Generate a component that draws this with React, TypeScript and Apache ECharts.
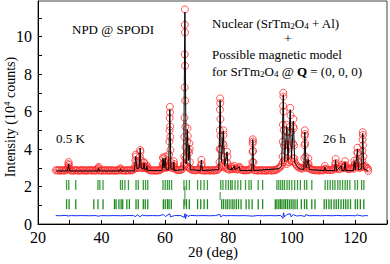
import React, { useEffect, useRef } from "react";
import * as echarts from "echarts";

// Observed background on a regular 2θ grid (start 25.6°, step 0.4°)
const obsGridStart = 25.6;
const obsGridStep = 0.4;
const obsGridValues = [
  2.86, 2.88, 2.85, 2.87, 2.84, 2.88, 2.86, 2.85, 2.88, 2.9,
  3.05, 2.9, 2.86, 2.84, 2.87, 2.85, 2.88, 2.86, 2.84, 2.87,
  2.85, 2.88, 2.86, 2.84, 2.87, 2.85, 2.86, 2.88, 2.85, 2.87,
  2.86, 2.84, 2.88, 2.95, 2.86, 2.85, 2.87, 2.84, 2.86, 2.88,
  2.85, 2.87, 2.84, 2.86, 2.88, 2.85, 2.86, 2.84, 2.87, 2.85,
  2.88, 2.92, 2.86, 2.85, 2.87, 2.84, 2.86, 2.88, 2.85, 2.87,
  2.86, 2.9, 2.95, 3.0, 2.98, 3.0, 3.05, 3.0, 2.98, 3.05,
  3.0, 2.98, 2.95, 2.9, 2.88, 2.86, 2.85, 2.87, 2.86, 2.84,
  2.87, 2.86, 2.88, 2.92, 3.0, 2.98, 3.05, 3.0, 3.02, 3.05,
  3.1, 3.0, 2.98, 3.05, 2.95, 2.9, 2.88, 2.87, 2.88, 2.9,
  2.95, 3.1, 3.15, 3.1, 3.05, 3.0, 2.95, 2.9, 2.88, 2.87,
  2.86, 2.88, 2.9, 2.95, 2.88, 2.86, 2.87, 2.85, 2.86, 2.88,
  2.85, 2.87, 2.86, 2.88, 2.85, 2.86, 2.88, 2.87, 2.92, 3.0,
  3.1, 3.05, 3.1, 3.0, 3.05, 2.95, 2.92, 2.9, 2.95, 2.92,
  2.95, 3.0, 2.92, 2.9, 2.95, 3.0, 2.9, 2.88, 2.86, 2.87,
  2.86, 2.88, 2.87, 2.92, 3.0, 2.95, 2.88, 2.86, 2.87, 2.85,
  2.86, 2.88, 2.85, 2.87, 2.86, 2.84, 2.87, 2.85, 2.88, 2.86,
  2.85, 2.87, 2.86, 2.88, 2.9, 2.95, 3.0, 3.05, 3.15, 3.3,
  3.4, 3.3, 3.2, 3.5, 3.3, 3.4, 3.35, 3.5, 3.3, 3.2,
  3.1, 3.05, 3.0, 3.0, 2.95, 3.0, 3.1, 3.0, 3.1, 3.0,
  2.95, 2.92, 2.9, 2.88, 2.87, 2.86, 2.88, 2.85, 2.87, 2.86,
  2.88, 2.86, 2.95, 2.92, 2.88, 2.9, 2.87, 2.89, 2.88, 2.95,
  3.0, 2.95, 3.0, 2.92, 2.95, 3.05, 2.98, 3.0, 3.05, 2.98,
  2.95, 2.92, 2.95, 2.98, 3.0, 2.95, 3.05, 3.1, 3.05, 3.0,
  3.0, 3.05, 3.1, 3.05, 3.1, 3.0, 2.95,
];

// Observed points on the Bragg peaks [2θ, intensity (10^4 counts)]
const obsPeakPoints = [
  [29.45, 3.0], [29.55, 3.2], [29.65, 3.3], [29.75, 3.15], [29.85, 2.95],
  [39.05, 2.98], [39.15, 3.05], [46.0, 2.97],
  [50.6, 3.1], [50.7, 3.4], [50.8, 3.7], [50.9, 3.6], [51.0, 3.3],
  [52.0, 3.2], [52.1, 3.6], [52.2, 3.95], [52.3, 3.85], [52.4, 3.4],
  [53.3, 3.1], [53.4, 3.3], [53.5, 3.25], [53.6, 3.05],
  [54.2, 3.0], [54.3, 3.12], [54.4, 3.05],
  [59.3, 3.2], [59.4, 3.55], [59.5, 3.5], [59.6, 3.2],
  [60.0, 3.3], [60.1, 3.6], [60.2, 3.45], [60.3, 3.05],
  [61.3, 3.2], [61.35, 3.7], [61.4, 4.4], [61.45, 5.0], [61.5, 5.65], [61.55, 6.25],
  [61.6, 5.95], [61.65, 5.2], [61.7, 4.65], [61.75, 3.95], [61.85, 3.3],
  [62.7, 3.1], [62.8, 3.35], [62.9, 3.2],
  [66.05, 3.2], [66.1, 3.6], [66.15, 4.65], [66.18, 5.67], [66.22, 7.29], [66.25, 9.05],
  [66.28, 10.63], [66.3, 11.45], [66.33, 10.22], [66.36, 8.44], [66.4, 6.58], [66.44, 5.19],
  [66.48, 4.1], [66.55, 3.5],
  [66.9, 3.6], [67.0, 4.4], [67.1, 5.1], [67.2, 4.7], [67.3, 3.9],
  [67.6, 3.8], [67.7, 4.3], [67.8, 4.0], [67.9, 3.3],
  [71.4, 3.15], [71.5, 3.42], [71.6, 3.2],
  [77.2, 3.3], [77.25, 4.0], [77.3, 5.0], [77.35, 6.1], [77.4, 6.7], [77.45, 6.45],
  [77.5, 5.6], [77.55, 4.7], [77.6, 4.0],
  [78.25, 3.6], [78.3, 4.3], [78.4, 5.0], [78.45, 4.75], [78.5, 4.2], [78.6, 3.6],
  [79.5, 3.3], [79.6, 3.85], [79.7, 3.6], [79.8, 3.2],
  [81.0, 3.05], [81.9, 3.1], [83.5, 3.05],
  [87.55, 3.3], [87.6, 3.85], [87.65, 4.3], [87.7, 4.52], [87.75, 4.4], [87.8, 3.9], [87.9, 3.3],
  [97.1, 3.6], [97.15, 4.4], [97.2, 5.3], [97.25, 6.3], [97.3, 7.0], [97.35, 6.8],
  [97.4, 6.0], [97.45, 5.0], [97.5, 4.2],
  [98.25, 3.9], [98.3, 4.6], [98.4, 5.3], [98.5, 4.9], [98.6, 4.2],
  [99.3, 4.2], [99.4, 5.2], [99.5, 6.2], [99.6, 5.8], [99.7, 4.9],
  [100.35, 4.3], [100.45, 5.2], [100.5, 5.6], [100.6, 5.1], [100.7, 4.2], [100.8, 3.5],
  [103.95, 3.5], [104.0, 4.2], [104.05, 4.7], [104.1, 5.0], [104.15, 4.8], [104.2, 4.3], [104.3, 3.6],
  [105.1, 3.2], [105.2, 3.5], [105.3, 3.2],
  [110.4, 3.1],
  [113.7, 3.2], [113.8, 3.47], [113.9, 3.25],
  [115.6, 3.15],
  [116.7, 3.1], [116.8, 3.35], [116.9, 3.15],
  [119.6, 3.1], [119.7, 3.38], [119.8, 3.2],
  [120.55, 3.4], [120.6, 3.8], [120.7, 4.07], [120.8, 3.8], [120.9, 3.3],
  [122.2, 3.4], [122.25, 3.9], [122.3, 4.5], [122.35, 4.9], [122.4, 4.75], [122.45, 4.2], [122.55, 3.6],
  [124.1, 2.83],
];

// Calculated profile
const calcPoints = [
  [25.6, 2.83], [29.3, 2.83], [29.55, 3.1], [29.65, 3.2], [29.75, 3.05], [30.0, 2.83],
  [38.9, 2.83], [39.1, 3.0], [39.3, 2.83],
  [45.8, 2.83], [46.0, 2.95], [46.2, 2.83],
  [50.4, 2.83], [50.8, 3.6], [51.2, 2.95], [51.9, 3.0], [52.2, 4.05], [52.5, 3.0],
  [53.2, 2.95], [53.45, 3.25], [53.7, 2.9], [54.2, 2.9], [54.3, 3.1], [54.5, 2.85],
  [59.1, 2.85], [59.4, 3.5], [59.75, 3.0], [60.1, 3.55], [60.4, 2.9],
  [61.2, 2.9], [61.55, 6.1], [61.9, 2.95], [62.6, 2.9], [62.8, 3.3], [63.0, 2.85],
  [65.9, 2.9], [66.3, 11.3], [66.7, 3.2], [67.1, 5.05], [67.4, 3.4], [67.7, 4.2], [68.0, 2.9],
  [71.2, 2.85], [71.5, 3.4], [71.8, 2.85],
  [77.0, 2.9], [77.4, 6.6], [77.8, 3.3], [78.4, 4.95], [78.8, 3.1], [79.6, 3.85], [79.9, 2.95],
  [80.9, 2.9], [81.0, 3.0], [81.2, 2.9], [81.9, 3.1], [82.1, 2.9], [83.5, 3.05], [83.7, 2.85],
  [87.4, 2.85], [87.7, 4.5], [88.0, 2.85],
  [96.0, 2.95], [96.8, 3.1], [97.3, 6.9], [97.7, 3.3], [98.4, 5.2], [98.8, 3.4],
  [99.5, 6.1], [99.9, 3.5], [100.5, 5.5], [100.9, 3.3], [101.6, 3.1], [102.3, 2.95],
  [103.8, 2.9], [104.1, 4.9], [104.5, 3.0], [105.2, 3.45], [105.5, 2.9],
  [110.2, 2.85], [110.4, 3.05], [110.6, 2.85],
  [113.5, 2.85], [113.8, 3.4], [114.1, 2.85], [115.6, 3.1], [115.8, 2.85],
  [116.5, 2.85], [116.8, 3.3], [117.1, 2.85],
  [119.4, 2.85], [119.7, 3.35], [120.0, 2.9], [120.7, 4.0], [121.0, 2.9],
  [122.0, 2.95], [122.35, 4.85], [122.7, 2.95], [124.0, 2.83],
];

// Difference (obs - calc), offset
const diffPoints = [
  [25.6, 0.45], [27, 0.44], [28.5, 0.46], [29.6, 0.43], [30.5, 0.45], [32, 0.44], [34, 0.45],
  [36, 0.44], [38, 0.45], [39.1, 0.42], [40, 0.45], [42, 0.44], [44, 0.45], [46, 0.44],
  [48, 0.45], [50, 0.45], [50.8, 0.4], [51.3, 0.5], [52.2, 0.38], [52.8, 0.48], [54, 0.44],
  [56, 0.45], [58, 0.44], [59.5, 0.5], [60.2, 0.4], [61.5, 0.55], [61.8, 0.38], [63, 0.45],
  [65, 0.45], [66.1, 0.35], [66.3, 0.55], [66.5, 0.28], [66.8, 0.5], [67.3, 0.4], [68, 0.46],
  [70, 0.44], [72, 0.45], [74, 0.44], [76, 0.45], [77.3, 0.52], [77.6, 0.38], [78.4, 0.47],
  [79, 0.44], [81, 0.45], [83, 0.44], [85, 0.45], [87.7, 0.42], [89, 0.45], [91, 0.44],
  [93, 0.45], [95, 0.44], [96.5, 0.46], [97.2, 0.3], [97.4, 0.6], [97.7, 0.38], [98.4, 0.5],
  [99.5, 0.55], [99.8, 0.38], [100.5, 0.5], [101.5, 0.43], [103, 0.45], [104.1, 0.4],
  [104.4, 0.5], [105.5, 0.44], [107, 0.45], [109, 0.44], [111, 0.45], [113, 0.44],
  [114, 0.46], [116, 0.44], [118, 0.45], [120, 0.44], [120.7, 0.48], [122.4, 0.42],
  [123, 0.45], [124, 0.44],
];

// Bragg reflection positions (2θ)
const braggNuclear = [
  29.0, 29.7, 31.9, 38.9, 39.5, 40.5, 46.0, 46.6, 47.4, 48.5, 50.9, 51.6, 53.2, 53.9, 54.6,
  59.4, 60.1, 60.8, 61.4, 62.1, 66.0, 66.8, 67.7, 70.3, 71.3, 72.35, 73.4, 77.6, 78.3, 79.2,
  80.0, 80.7, 81.2, 82.1, 83.0, 83.9, 85.4, 86.5, 87.2, 89.4, 90.8, 95.3, 95.9, 96.5, 97.1,
  97.7, 98.5, 99.2, 100.0, 100.9, 101.8, 102.7, 104.0, 104.7, 106.3, 110.5, 111.3, 112.1,
  112.9, 113.6, 114.5, 115.2, 116.0, 116.8, 117.5, 118.3, 119.9, 120.7, 122.0, 122.7,
];
const braggMagnetic = [
  29.0, 29.8, 31.9, 37.6, 38.9, 40.5, 44.1, 44.6, 45.5, 46.2, 46.7, 48.0, 48.8, 50.9, 51.6,
  53.2, 53.8, 54.6, 59.5, 60.1, 60.8, 61.3, 62.0, 66.0, 66.8, 67.7, 70.3, 71.3, 72.35, 73.4,
  77.9, 78.5, 79.2, 79.8, 80.5, 81.2, 81.8, 82.5, 83.2, 84.0, 85.6, 86.5, 87.5, 89.4, 90.8,
  94.8, 95.3, 95.9, 96.4, 96.9, 97.5, 98.0, 98.6, 99.2, 99.8, 100.4, 101.0, 101.7, 103.0,
  104.0, 104.7, 106.3, 107.3, 110.2, 110.9, 111.7, 112.4, 113.3, 114.0, 114.7, 115.5,
  116.3, 117.0, 117.7, 118.5, 120.0, 120.7, 121.6, 122.7,
];
const braggAl = [66.3, 77.4];

const xTicks = { min: 20, max: 130, step: 10 };
const yTicks = { min: 0, max: 11.9, step: 1 };

const serif = "'Liberation Serif', 'Times New Roman', serif";

export default function App() {
  const ref = useRef<HTMLDivElement>(null);

  useEffect(() => {
    if (!ref.current) return;
    const chart = echarts.init(ref.current, undefined, { renderer: "svg" });

    const obsData: number[][] = obsGridValues.map((v, i) => [
      +(obsGridStart + i * obsGridStep).toFixed(2),
      v,
    ]);
    const allObs = obsData.concat(obsPeakPoints);

    const tickSeries = (data: number[], y: number, color: string, h: number) => ({
      type: "scatter",
      data: data.map((x) => [x, y]),
      symbol: "rect",
      symbolSize: [1.3, h],
      itemStyle: { color, opacity: 1 },
      silent: true,
      z: 2,
    });

    chart.setOption({
      animation: false,
      grid: {
        left: 38,
        right: 1,
        top: 1,
        bottom: 40,
        show: true,
        borderColor: "#444",
        borderWidth: 1,
      },
      xAxis: {
        type: "value",
        min: xTicks.min,
        max: xTicks.max,
        interval: xTicks.step,
        axisLine: { lineStyle: { color: "#000", width: 1 } },
        axisTick: { inside: true, length: 4, lineStyle: { color: "#000" } },
        splitLine: { show: false },
        axisLabel: {
          margin: 5,
          color: "#000",
          fontFamily: serif,
          fontSize: 16,
          formatter: (v: number) => (v % 20 === 0 ? String(v) : ""),
        },
      },
      yAxis: {
        type: "value",
        min: yTicks.min,
        max: yTicks.max,
        interval: yTicks.step,
        axisLine: { show: true, lineStyle: { color: "#000", width: 1 } },
        axisTick: { show: true, inside: true, length: 4, lineStyle: { color: "#000" } },
        splitLine: { show: false },
        axisLabel: {
          margin: 6,
          color: "#000",
          fontFamily: serif,
          fontSize: 16,
          showMaxLabel: false,
          formatter: (v: number) => (Math.round(v) % 2 === 0 ? String(v) : ""),
        },
      },
      graphic: [
        {
          type: "text",
          x: 10,
          y: 117,
          rotation: Math.PI / 2,
          style: {
            text: "Intensity (10{sup|4} counts)",
            fontFamily: serif,
            fontSize: 14,
            fill: "#000",
            align: "center",
            verticalAlign: "middle",
            rich: {
              sup: { fontFamily: serif, fontSize: 9, verticalAlign: "top", padding: [0, 0, 6, 0] },
            },
          },
        },
        {
          type: "text",
          x: 213,
          y: 252,
          style: {
            text: "2θ (deg)",
            fontFamily: serif,
            fontSize: 15,
            fill: "#000",
            align: "center",
            verticalAlign: "middle",
          },
        },
        {
          type: "text",
          x: 72,
          y: 29,
          style: { text: "NPD @ SPODI", fontFamily: serif, fontSize: 13, fill: "#000", verticalAlign: "middle" },
        },
        {
          type: "text",
          x: 56,
          y: 138,
          style: { text: "0.5 K", fontFamily: serif, fontSize: 13, fill: "#000", verticalAlign: "middle" },
        },
        {
          type: "text",
          x: 323,
          y: 138,
          style: { text: "26 h", fontFamily: serif, fontSize: 13, fill: "#000", verticalAlign: "middle" },
        },
        {
          type: "text",
          x: 212,
          y: 23,
          style: {
            text: "Nuclear (SrTm{sub|2}O{sub|4} + Al)",
            fontFamily: serif,
            fontSize: 13,
            fill: "#000",
            verticalAlign: "middle",
            rich: { sub: { fontFamily: serif, fontSize: 9, padding: [6, 0, 0, 0] } },
          },
        },
        {
          type: "text",
          x: 288,
          y: 38,
          style: { text: "+", fontFamily: serif, fontSize: 13, fill: "#000", align: "center", verticalAlign: "middle" },
        },
        {
          type: "text",
          x: 212,
          y: 54,
          style: { text: "Possible magnetic model", fontFamily: serif, fontSize: 13, fill: "#000", verticalAlign: "middle" },
        },
        {
          type: "text",
          x: 212,
          y: 71,
          style: {
            text: "for SrTm{sub|2}O{sub|4} @ {b|Q} = (0, 0, 0)",
            fontFamily: serif,
            fontSize: 13,
            fill: "#000",
            verticalAlign: "middle",
            rich: {
              sub: { fontFamily: serif, fontSize: 9, padding: [6, 0, 0, 0] },
              b: { fontFamily: serif, fontSize: 13, fontWeight: "bold" },
            },
          },
        },
      ],
      series: [
        tickSeries(braggNuclear, 2.08, "#3c9c3c", 10),
        tickSeries(braggMagnetic, 1.06, "#1f8a1f", 10),
        {
          type: "scatter",
          data: braggAl.map((x) => [x, 1.5]),
          symbol: "rect",
          symbolSize: (_v: any, p: any) => (p.dataIndex === 0 ? [1, 19] : [1, 8]),
          itemStyle: { color: "#0d6e0d" },
          silent: true,
          z: 2,
        },
        {
          type: "line",
          data: diffPoints,
          showSymbol: false,
          lineStyle: { color: "#1030ff", width: 1 },
          silent: true,
          z: 3,
        },
        {
          type: "scatter",
          data: allObs,
          symbol: "circle",
          symbolSize: 7,
          itemStyle: { color: "rgba(0,0,0,0)", borderColor: "#ff2a2a", borderWidth: 1 },
          silent: true,
          z: 4,
        },
        {
          type: "line",
          data: calcPoints,
          showSymbol: false,
          lineStyle: { color: "#000", width: 1 },
          silent: true,
          z: 5,
        },
      ],
    });

    return () => chart.dispose();
  }, []);

  return (
    <div
      ref={ref}
      style={{ position: "fixed", left: 0, top: 0, width: 390, height: 264, background: "#fff" }}
    />
  );
}
